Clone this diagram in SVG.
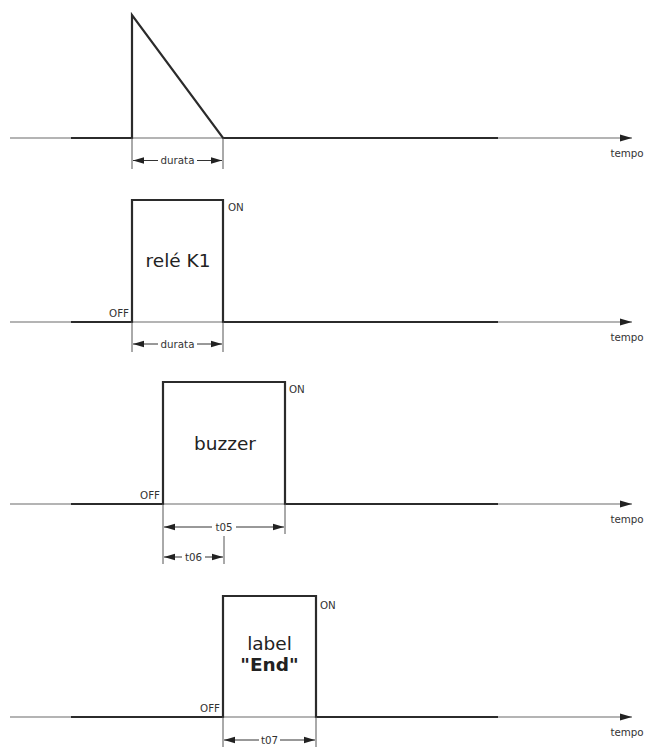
<svg xmlns="http://www.w3.org/2000/svg" width="653" height="747" viewBox="0 0 653 747">
<style>
.axis{stroke:#6a6a6a;stroke-width:1.2;fill:none}
.sig{stroke:#2b2b2b;stroke-width:2.2;fill:none;stroke-linejoin:miter}
.ext{stroke:#555;stroke-width:1;fill:none}
.dim{stroke:#333;stroke-width:1;fill:none;marker-start:url(#ah)}
.sm{font-family:"DejaVu Sans",Verdana,sans-serif;font-size:10.3px;fill:#333}
.big{font-family:"DejaVu Sans",Verdana,sans-serif;font-size:18.5px;fill:#222}
</style>
<defs>
<marker id="ax" markerWidth="13" markerHeight="8" refX="12" refY="4" orient="auto" markerUnits="userSpaceOnUse">
<path d="M0,0.5 L12,4 L0,7.5 Z" fill="#222"/>
</marker>
<marker id="ah" markerWidth="12" markerHeight="8" refX="0" refY="4" orient="auto" markerUnits="userSpaceOnUse">
<path d="M0,4 L11,0.8 L11,7.2 Z" fill="#222"/>
</marker>
</defs>
<rect width="653" height="747" fill="#fff"/>

<g id="axes">
<line class="axis" x1="10" y1="138" x2="632" y2="138" marker-end="url(#ax)"/>
<line class="axis" x1="10" y1="322" x2="632" y2="322" marker-end="url(#ax)"/>
<line class="axis" x1="10" y1="504" x2="632" y2="504" marker-end="url(#ax)"/>
<line class="axis" x1="10" y1="717" x2="632" y2="717" marker-end="url(#ax)"/>
<text class="sm" x="627" y="157" text-anchor="middle">tempo</text>
<text class="sm" x="627" y="341" text-anchor="middle">tempo</text>
<text class="sm" x="627" y="523" text-anchor="middle">tempo</text>
<text class="sm" x="627" y="736" text-anchor="middle">tempo</text>
</g>

<g id="signal1">
<path class="sig" d="M71 138 H132 V15 L223 138 H498"/>
</g>

<g id="signal2">
<path class="sig" d="M71 322 H132 V200 H223 V322 H498"/>
<text class="big" x="178" y="267" text-anchor="middle">relé K1</text>
<text class="sm" x="228" y="211">ON</text>
<text class="sm" x="129" y="317" text-anchor="end">OFF</text>
</g>

<g id="signal3">
<path class="sig" d="M71 504 H163 V382 H285 V504 H498"/>
<text class="big" x="225" y="450" text-anchor="middle">buzzer</text>
<text class="sm" x="289" y="393">ON</text>
<text class="sm" x="160" y="499" text-anchor="end">OFF</text>
</g>

<g id="signal4">
<path class="sig" d="M71 717 H223 V596 H316 V717 H498"/>
<text class="big" x="269.5" y="650" text-anchor="middle">label</text>
<text class="big" x="269.5" y="671" text-anchor="middle" font-weight="bold">"End"</text>
<text class="sm" x="320" y="609">ON</text>
<text class="sm" x="220" y="712" text-anchor="end">OFF</text>
</g>

<g id="connectors">
<line class="ext" x1="132" y1="138" x2="132" y2="169"/>
<line class="ext" x1="223" y1="138" x2="223" y2="169"/>
<line class="dim" x1="133" y1="160.5" x2="158" y2="160.5"/>
<line class="dim" x1="222" y1="160.5" x2="197" y2="160.5"/>
<text class="sm" x="177.5" y="164" text-anchor="middle">durata</text>
<line class="ext" x1="132" y1="322" x2="132" y2="352"/>
<line class="ext" x1="223" y1="322" x2="223" y2="352"/>
<line class="dim" x1="133" y1="344" x2="158" y2="344"/>
<line class="dim" x1="222" y1="344" x2="197" y2="344"/>
<text class="sm" x="177.5" y="347.5" text-anchor="middle">durata</text>
<line class="ext" x1="163" y1="504" x2="163" y2="564"/>
<line class="ext" x1="285" y1="504" x2="285" y2="534"/>
<line class="ext" x1="224" y1="536" x2="224" y2="564"/>
<line class="dim" x1="164" y1="527" x2="212" y2="527"/>
<line class="dim" x1="284" y1="527" x2="236" y2="527"/>
<text class="sm" x="224" y="530.5" text-anchor="middle">t05</text>
<line class="dim" x1="164" y1="557" x2="182" y2="557"/>
<line class="dim" x1="223" y1="557" x2="205" y2="557"/>
<text class="sm" x="193.5" y="560.5" text-anchor="middle">t06</text>
<line class="ext" x1="223" y1="717" x2="223" y2="747"/>
<line class="ext" x1="316" y1="717" x2="316" y2="747"/>
<line class="dim" x1="224" y1="740" x2="259" y2="740"/>
<line class="dim" x1="315" y1="740" x2="280" y2="740"/>
<text class="sm" x="269.5" y="743.5" text-anchor="middle">t07</text>
</g>
</svg>
